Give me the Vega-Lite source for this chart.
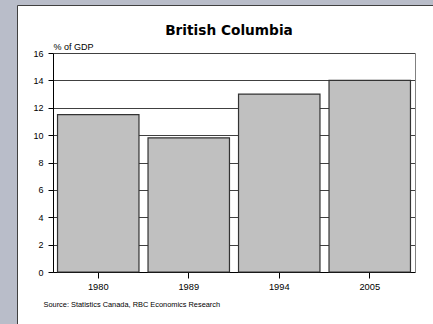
{
  "$schema": "https://vega.github.io/schema/vega-lite/v6.json",
  "width": 416,
  "height": 319,
  "autosize": {"type": "none"},
  "padding": {"left": 17, "top": 5, "right": 0, "bottom": 0},
  "background": "#b9bdc9",
  "view": {"fill": "white", "stroke": "#404040", "strokeWidth": 1},
  "title": {"text": "British Columbia", "font": "DejaVu Sans", "fontSize": 13.7, "fontWeight": "bold", "color": "black", "anchor": "middle", "baseline": "alphabetic", "offset": -31, "dx": 4, "dy": 13},
  "data": {"values": [
    {"year": "1980", "value": 11.5},
    {"year": "1989", "value": 9.8},
    {"year": "1994", "value": 13.0},
    {"year": "2005", "value": 14.0}
  ]},
  "layer": [
    {
      "mark": {"type": "bar", "fill": "#c0c0c0", "stroke": "#333333", "strokeWidth": 1.2},
      "encoding": {
        "x": {
          "field": "year", "type": "nominal",
          "scale": {"range": [36, 398], "paddingInner": 0.1, "paddingOuter": 0.05},
          "axis": {
            "offset": -52,
            "title": "Source: Statistics Canada, RBC Economics Research",
            "titleFont": "Liberation Sans", "titleFontSize": 7.4, "titleFontWeight": "normal", "titleColor": "black",
            "titleAnchor": "start", "titleAlign": "left", "titleBaseline": "alphabetic", "titleX": 26, "titleY": 34,
            "labelAngle": 0, "labelFont": "Liberation Sans", "labelFontSize": 9.3, "labelColor": "black", "labelPadding": 4,
            "tickSize": 6, "tickColor": "black", "domainColor": "black", "grid": false
          }
        },
        "y": {
          "field": "value", "type": "quantitative",
          "scale": {"domain": [0, 16], "nice": false, "range": [267, 48]},
          "axis": {
            "offset": -36,
            "values": [0, 2, 4, 6, 8, 10, 12, 14, 16],
            "title": "% of GDP", "titleAngle": 0, "titleX": 0, "titleY": 44.3, "titleAlign": "left", "titleBaseline": "alphabetic",
            "titleFont": "Liberation Sans", "titleFontSize": 9, "titleFontWeight": "normal", "titleColor": "black",
            "labelFont": "Liberation Sans", "labelFontSize": 9, "labelColor": "black", "labelPadding": 5,
            "tickSize": 5, "tickColor": "black", "domainColor": "black",
            "grid": true, "gridColor": "#404040", "gridOpacity": 1
          }
        }
      }
    },
    {
      "mark": {"type": "rule", "opacity": 0},
      "encoding": {
        "y": {
          "field": "value", "type": "quantitative",
          "axis": {"orient": "right", "offset": -18, "domainColor": "#808080", "ticks": false, "labels": false, "grid": false, "title": null}
        }
      }
    }
  ],
  "resolve": {"axis": {"y": "independent"}}
}
